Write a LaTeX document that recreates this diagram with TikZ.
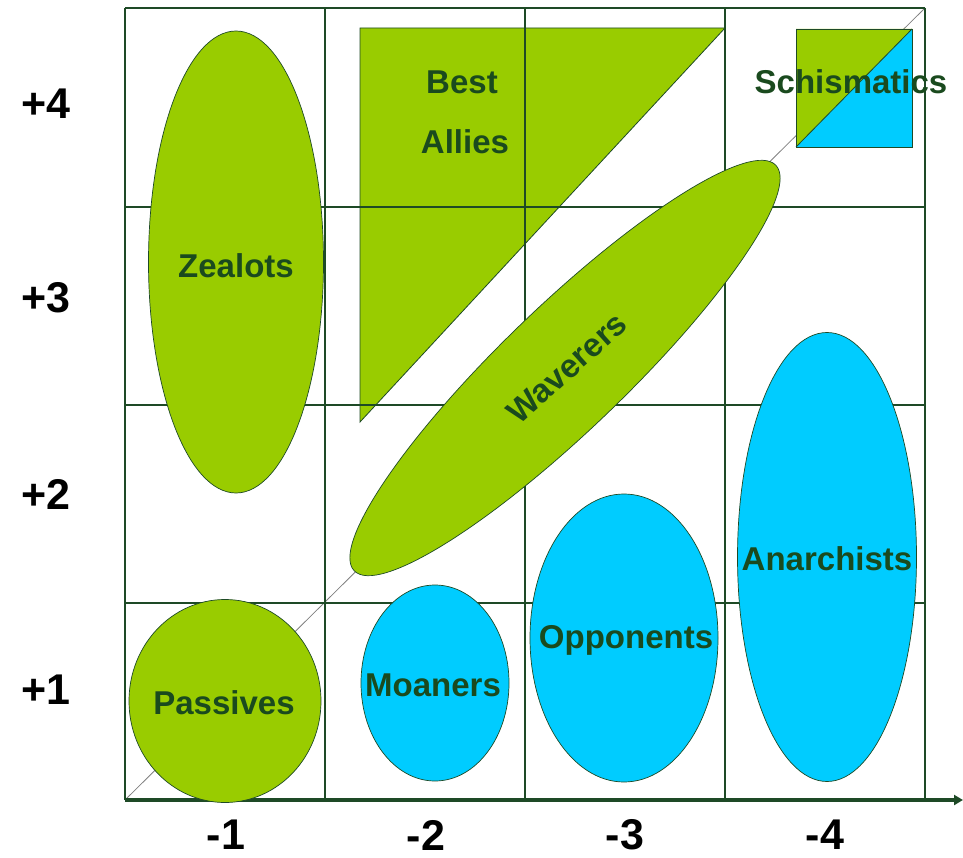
\documentclass[tikz,border=0pt]{standalone}
\usepackage{fontspec}
\setmainfont{Liberation Sans}
\usetikzlibrary{shapes.geometric,arrows.meta}
\definecolor{leaf}{HTML}{99CC00}
\definecolor{sky}{HTML}{00CCFF}
\definecolor{gridc}{HTML}{1E4A26}
\definecolor{txtc}{HTML}{1A4A1E}
\tikzset{
  gridline/.style={draw=gridc, line width=2.2pt},
  blob/.style={ellipse, draw=gridc, line width=0.7pt, inner sep=0pt, outer sep=0pt},
  gblob/.style={blob, fill=leaf},
  cblob/.style={blob, fill=sky},
  lbl/.style={font=\fontsize{33}{36}\selectfont\bfseries, text=txtc, inner sep=0pt},
  axlbl/.style={font=\fontsize{43}{43}\selectfont\bfseries, text=black, inner sep=0pt},
}
\begin{document}
\begin{tikzpicture}[x=1pt,y=-1pt]
\useasboundingbox (0,0) rectangle (963,858);
% diagonal reference line
\coordinate (o) at (125,800);
\coordinate (tr) at (925,8);
\draw[gray, line width=0.8pt] (o) -- (tr);
% Best Allies triangle
\coordinate (t1) at (360,28);
\coordinate (t2) at (725,28);
\coordinate (t3) at (360,422);
\draw[gridc, line width=0.8pt, fill=leaf] (t1) -- (t2) -- (t3) -- cycle;
% grid
\foreach \x in {125,325,525,725,925} \draw[gridline] (\x,8) -- (\x,800);
\foreach \y in {8,207,405,603} \draw[gridline] (125,\y) -- (925,\y);
% x axis
\coordinate (xend) at (963,800);
\draw[draw=gridc, line width=3.2pt, -{Triangle[length=9pt,width=10pt]}] (o) -- (xend);
% Schismatics square
\coordinate (s1) at (796,29);
\coordinate (s2) at (912,29);
\coordinate (s3) at (912,147);
\coordinate (s4) at (796,147);
\fill[leaf] (s1) -- (s2) -- (s4) -- cycle;
\fill[sky] (s2) -- (s3) -- (s4) -- cycle;
\draw[gridc, line width=0.8pt] (s1) rectangle (s3);
\draw[gridc, line width=0.8pt] (s4) -- (s2);
% ellipses
\node[gblob, minimum width=175pt, minimum height=462pt] (zealots) at (236,262) {};
\node[gblob, minimum width=192pt, minimum height=203pt] (passives) at (225,701) {};
\node[gblob, rotate=43.9, minimum width=585pt, minimum height=124pt] (waverers) at (565,368) {};
\node[cblob, minimum width=148pt, minimum height=196pt] (moaners) at (435,683) {};
\node[cblob, minimum width=188pt, minimum height=288pt] (opponents) at (624,638) {};
\node[cblob, minimum width=179pt, minimum height=449pt] (anarchists) at (827,557) {};
% labels
\node[lbl] (zealbl) at (236,266) {Zealots};
\node[lbl] (passlbl) at (224,703) {Passives};
\node[lbl, rotate=42] (wavlbl) at (567,368) {Waverers};
\node[lbl] (moanlbl) at (433,685) {Moaners};
\node[lbl] (opplbl) at (626,640) {Opponents};
\node[lbl] (anarlbl) at (827,559) {Anarchists};
\node[lbl] (best) at (462,82) {Best};
\node[lbl] (allies) at (465,142) {Allies};
\node[lbl] (schism) at (851,82) {Schismatics};
% axis labels
\node[axlbl] (y4) at (46,104) {+4};
\node[axlbl] (y3) at (46,298) {+3};
\node[axlbl] (y2) at (46,494) {+2};
\node[axlbl] (y1) at (46,690) {+1};
\node[axlbl] (x1) at (226,835) {-1};
\node[axlbl] (x2) at (426,835) {-2};
\node[axlbl] (x3) at (625,835) {-3};
\node[axlbl] (x4) at (825,835) {-4};
\end{tikzpicture}
\end{document}
